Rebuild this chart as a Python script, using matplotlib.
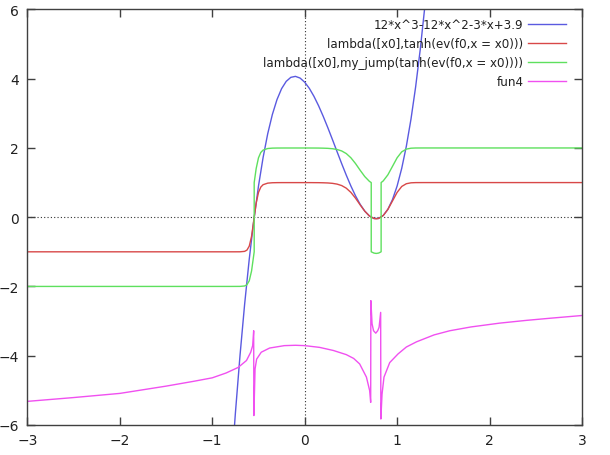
import matplotlib
matplotlib.use("Agg")
import matplotlib.pyplot as plt

# cubic f0 = 12*x^3-12*x^2-3*x+3.9
cubic_x = [-0.80, -0.75, -0.70, -0.65, -0.60, -0.55, -0.50, -0.45, -0.40, -0.35,
           -0.30, -0.25, -0.20, -0.15, -0.10, -0.05, 0.00, 0.05, 0.10, 0.15,
           0.20, 0.25, 0.30, 0.35, 0.40, 0.45, 0.50, 0.55, 0.60, 0.65,
           0.70, 0.75, 0.80, 0.85, 0.90, 0.95, 1.00, 1.05, 1.10, 1.15,
           1.20, 1.25, 1.30]
cubic_y = [-7.524, -5.663, -3.996, -2.516, -1.212, -0.077, 0.900, 1.727, 2.412, 2.966,
           3.396, 3.713, 3.924, 4.040, 4.068, 4.019, 3.900, 3.722, 3.492, 3.221,
           2.916, 2.588, 2.244, 1.895, 1.548, 1.214, 0.900, 0.617, 0.372, 0.176,
           0.036, -0.038, -0.036, 0.050, 0.228, 0.509, 0.900, 1.412, 2.052, 2.831,
           3.756, 4.838, 6.084]

# tanh of the cubic
tanh_x = [-3.0, -0.80, -0.75, -0.70, -0.65, -0.625, -0.60, -0.575, -0.55, -0.525,
          -0.50, -0.475, -0.45, -0.40, -0.35, -0.30, -0.25, -0.20, 0.00, 0.05,
          0.10, 0.15, 0.20, 0.25, 0.30, 0.35, 0.40, 0.45, 0.50, 0.55,
          0.60, 0.65, 0.70, 0.75, 0.774, 0.80, 0.85, 0.90, 0.95, 1.00,
          1.05, 1.10, 1.15, 1.20, 1.30, 3.0]
tanh_y = [-1.0, -1.0, -1.0, -0.9993, -0.987, -0.951, -0.837, -0.554, -0.076, 0.406,
          0.716, 0.870, 0.939, 0.984, 0.995, 0.998, 0.999, 0.999, 0.999, 0.999,
          0.998, 0.997, 0.994, 0.989, 0.978, 0.956, 0.914, 0.838, 0.716, 0.549,
          0.356, 0.174, 0.036, -0.037, -0.047, -0.036, 0.049, 0.224, 0.469, 0.716,
          0.888, 0.967, 0.993, 0.999, 1.0, 1.0]

# my_jump(tanh(f0))
jump_x = [-3.0, -0.80, -0.70, -0.65, -0.625, -0.60, -0.575, -0.5465, -0.5465,
          -0.525, -0.50, -0.475, -0.45, -0.40, -0.35, -0.30, -0.20, 0.00, 0.10,
          0.15, 0.20, 0.25, 0.30, 0.35, 0.40, 0.45, 0.50, 0.55, 0.60,
          0.65, 0.70, 0.72, 0.72, 0.75, 0.774, 0.80, 0.827, 0.827, 0.85,
          0.90, 0.95, 1.00, 1.05, 1.10, 1.15, 1.20, 1.30, 3.0]
jump_y = [-2.0, -2.0, -1.999, -1.987, -1.951, -1.837, -1.554, -1.0, 1.0,
          1.406, 1.716, 1.870, 1.939, 1.984, 1.995, 1.998, 1.999, 1.999, 1.998,
          1.997, 1.994, 1.989, 1.978, 1.956, 1.914, 1.838, 1.716, 1.549, 1.356,
          1.174, 1.036, 1.0, -1.0, -1.037, -1.047, -1.036, -1.0, 1.0, 1.049,
          1.224, 1.469, 1.716, 1.888, 1.967, 1.993, 1.999, 2.0, 2.0]

# fun4
fun4_x = [-3.0, -2.5, -2.0, -1.5, -1.2, -1.0, -0.85, -0.72, -0.63, -0.584,
          -0.563, -0.552, -0.550, -0.537, -0.52, -0.47, -0.38, -0.22, -0.10, 0.0,
          0.16, 0.31, 0.45, 0.53, 0.595, 0.668, 0.703, 0.714, 0.716, 0.729,
          0.745, 0.769, 0.79, 0.805, 0.822, 0.824, 0.837, 0.858, 0.92, 1.01,
          1.10, 1.21, 1.4, 1.57, 1.8, 2.11, 2.4, 2.65, 3.0]
fun4_y = [-5.32, -5.21, -5.09, -4.88, -4.74, -4.64, -4.50, -4.34, -4.14, -3.90,
          -3.71, -3.28, -5.73, -4.38, -4.10, -3.90, -3.78, -3.71, -3.70, -3.71,
          -3.76, -3.85, -3.97, -4.08, -4.24, -4.62, -5.01, -5.35, -2.41, -3.08,
          -3.28, -3.35, -3.28, -3.18, -2.75, -5.83, -5.11, -4.62, -4.20, -3.95,
          -3.75, -3.60, -3.40, -3.28, -3.17, -3.06, -2.98, -2.92, -2.84]

labels = ["12*x^3-12*x^2-3*x+3.9",
          "lambda([x0],tanh(ev(f0,x = x0)))",
          "lambda([x0],my_jump(tanh(ev(f0,x = x0))))",
          "fun4"]
colors = ["#5a5ae0", "#d84848", "#5ee05e", "#f050f0"]

fig = plt.figure(figsize=(6.1, 4.56), dpi=100)
ax = fig.add_axes([0.045, 0.066, 0.909, 0.911])

ax.axhline(0, color="#303030", ls=(0, (1, 2)), lw=0.8, zorder=1)
ax.axvline(0, color="#303030", ls=(0, (1, 2)), lw=0.8, zorder=1)

ax.plot(cubic_x, cubic_y, color=colors[0], lw=1.0, label=labels[0], zorder=2)
ax.plot(tanh_x, tanh_y, color=colors[1], lw=1.0, label=labels[1], zorder=2)
ax.plot(jump_x, jump_y, color=colors[2], lw=1.0, label=labels[2], zorder=2)
ax.plot(fun4_x, fun4_y, color=colors[3], lw=1.0, label=labels[3], zorder=2)

ax.set_xlim(-3, 3)
ax.set_ylim(-6, 6)
ax.set_xticks([-3, -2, -1, 0, 1, 2, 3])
ax.set_yticks([-6, -4, -2, 0, 2, 4, 6])
ax.tick_params(direction="in", length=6, width=1, color="#404040",
               top=True, right=True, labelsize=10, labelcolor="#202020", pad=6)
for s in ax.spines.values():
    s.set_color("#404040")
    s.set_linewidth(1.0)

leg = ax.legend(loc="upper right", frameon=False, markerfirst=False,
                fontsize=8.6, handlelength=3.2, handletextpad=0.4,
                labelspacing=0.5, borderaxespad=0.2,
                bbox_to_anchor=(0.985, 0.997))
for t in leg.get_texts():
    t.set_color("#202020")

fig.savefig("out.png", dpi=100)
